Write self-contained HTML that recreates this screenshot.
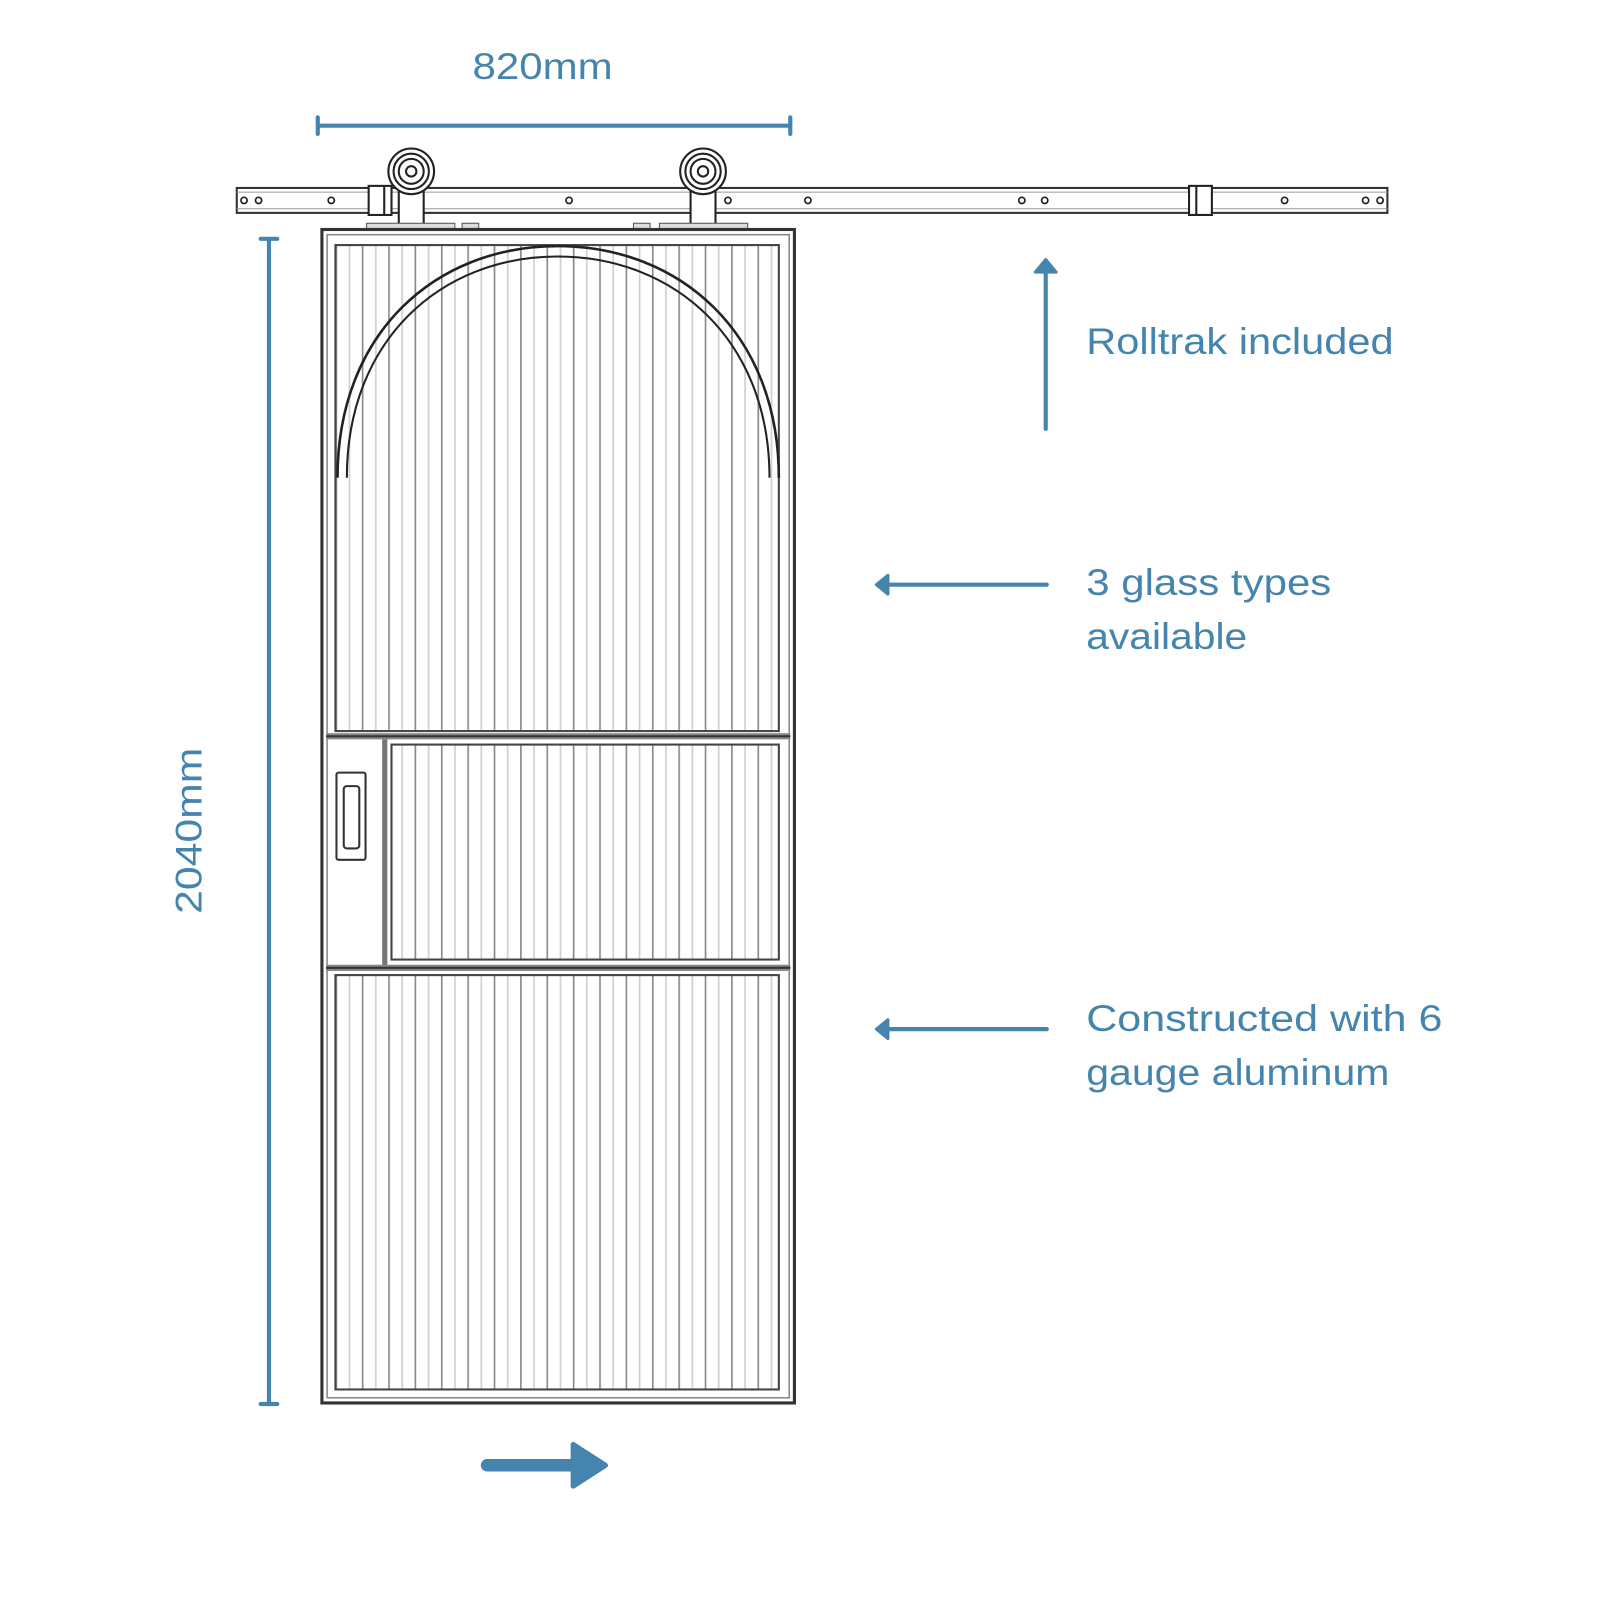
<!DOCTYPE html>
<html><head><meta charset="utf-8"><style>
html,body{margin:0;padding:0;background:#fff;}
svg{display:block;}
text{font-family:"Liberation Sans",sans-serif;fill:#4585ad;}
</style></head><body>
<svg width="1620" height="1620" viewBox="0 0 1560 1560" xmlns="http://www.w3.org/2000/svg">
<defs>
<pattern id="fl" x="323" y="0" width="25.4" height="20" patternUnits="userSpaceOnUse">
<rect x="0" y="0" width="1.6" height="20" fill="#8a8a8a"/>
<rect x="12.7" y="0" width="1.6" height="20" fill="#cfcfcf"/>
</pattern>
</defs>
<rect x="228" y="181" width="1108" height="24" fill="#fff" stroke="#333" stroke-width="2"/>
<line x1="228" y1="185" x2="1336" y2="185" stroke="#999" stroke-width="1"/>
<line x1="228" y1="201" x2="1336" y2="201" stroke="#999" stroke-width="1"/>
<g fill="#fff" stroke="#222" stroke-width="1.6">
<circle cx="235" cy="193" r="3"/><circle cx="249" cy="193" r="3"/><circle cx="319" cy="193" r="3"/>
<circle cx="548" cy="193" r="3"/><circle cx="701" cy="193" r="3"/><circle cx="778" cy="193" r="3"/>
<circle cx="984" cy="193" r="3"/><circle cx="1006" cy="193" r="3"/><circle cx="1237" cy="193" r="3"/>
<circle cx="1315" cy="193" r="3"/><circle cx="1329" cy="193" r="3"/>
</g>
<rect x="355" y="179" width="22" height="28" fill="#fff" stroke="#222" stroke-width="2"/>
<line x1="370" y1="179" x2="370" y2="207" stroke="#222" stroke-width="2"/>
<rect x="1145" y="179" width="22" height="28" fill="#fff" stroke="#222" stroke-width="2"/>
<line x1="1152" y1="179" x2="1152" y2="207" stroke="#222" stroke-width="2"/>
<g stroke="#222" stroke-width="2" fill="#fff">
<rect x="384" y="180" width="24" height="38"/>
<rect x="665" y="180" width="24" height="38"/>
<circle cx="396" cy="165" r="22"/><circle cx="396" cy="165" r="17"/><circle cx="396" cy="165" r="12"/><circle cx="396" cy="165" r="5"/>
<circle cx="677" cy="165" r="22"/><circle cx="677" cy="165" r="17"/><circle cx="677" cy="165" r="12"/><circle cx="677" cy="165" r="5"/>
</g>
<rect x="353" y="215" width="85" height="5" fill="#ddd" stroke="#555" stroke-width="1"/>
<rect x="445" y="215" width="16" height="5" fill="#ddd" stroke="#555" stroke-width="1"/>
<rect x="610" y="215" width="16" height="5" fill="#ddd" stroke="#555" stroke-width="1"/>
<rect x="635" y="215" width="85" height="5" fill="#ddd" stroke="#555" stroke-width="1"/>
<rect x="310" y="221" width="455" height="1130" fill="#fff" stroke="#333" stroke-width="3"/>
<rect x="315" y="226" width="445" height="1120" fill="none" stroke="#888" stroke-width="1.5"/>
<rect x="323" y="236" width="427" height="468" fill="url(#fl)" stroke="#444" stroke-width="2"/>
<path d="M325 460 C325 320 420 237 537 237 C654 237 750 320 750 460" fill="none" stroke="#222" stroke-width="2.5"/>
<path d="M334 460 C334 328 424 247 537 247 C650 247 741 328 741 460" fill="none" stroke="#222" stroke-width="2"/>
<rect x="314" y="706" width="447" height="6" fill="#888"/>
<line x1="314" y1="709" x2="761" y2="709" stroke="#333" stroke-width="2"/>
<rect x="368" y="712" width="5" height="218" fill="#777"/>
<rect x="377" y="717" width="373" height="207" fill="url(#fl)" stroke="#444" stroke-width="2"/>
<rect x="324" y="744" width="28" height="84" rx="2" fill="#fff" stroke="#333" stroke-width="2"/>
<rect x="331" y="757" width="15" height="60" rx="3" fill="#fff" stroke="#333" stroke-width="2"/>
<rect x="314" y="929" width="447" height="6" fill="#888"/>
<line x1="314" y1="932" x2="761" y2="932" stroke="#333" stroke-width="2"/>
<rect x="323" y="939" width="427" height="399" fill="url(#fl)" stroke="#444" stroke-width="2"/>
<g stroke="#4585ad" stroke-width="4" stroke-linecap="round" fill="none">
<line x1="306" y1="121" x2="761" y2="121"/>
<line x1="306" y1="113" x2="306" y2="129"/>
<line x1="761" y1="113" x2="761" y2="129"/>
<line x1="259" y1="230" x2="259" y2="1352"/>
<line x1="251" y1="230" x2="267" y2="230"/>
<line x1="251" y1="1352" x2="267" y2="1352"/>
<line x1="1007" y1="258" x2="1007" y2="413"/>
<line x1="850" y1="563" x2="1008" y2="563"/>
<line x1="850" y1="991" x2="1008" y2="991"/>
</g>
<g fill="#4585ad" stroke="#4585ad" stroke-width="3" stroke-linejoin="round">
<path d="M997 262 L1007 250 L1017 262 Z"/>
<path d="M855 554 L844 563 L855 572 Z"/>
<path d="M855 982 L844 991 L855 1000 Z"/>
<rect x="463" y="1405" width="92" height="12" rx="6" stroke="none"/>
<path d="M552 1391 L583 1411 L552 1431 Z" stroke-width="5"/>
</g>
<text x="455" y="76" font-size="36" textLength="135" lengthAdjust="spacingAndGlyphs">820mm</text>
<text x="0" y="0" font-size="36" textLength="160" lengthAdjust="spacingAndGlyphs" transform="translate(194 880) rotate(-90)">2040mm</text>
<text x="1046" y="341" font-size="36" textLength="296" lengthAdjust="spacingAndGlyphs">Rolltrak included</text>
<text x="1046" y="573" font-size="36" textLength="236" lengthAdjust="spacingAndGlyphs">3 glass types</text>
<text x="1046" y="625" font-size="36" textLength="155" lengthAdjust="spacingAndGlyphs">available</text>
<text x="1046" y="993" font-size="36" textLength="343" lengthAdjust="spacingAndGlyphs">Constructed with 6</text>
<text x="1046" y="1045" font-size="36" textLength="292" lengthAdjust="spacingAndGlyphs">gauge aluminum</text>
</svg>
</body></html>
